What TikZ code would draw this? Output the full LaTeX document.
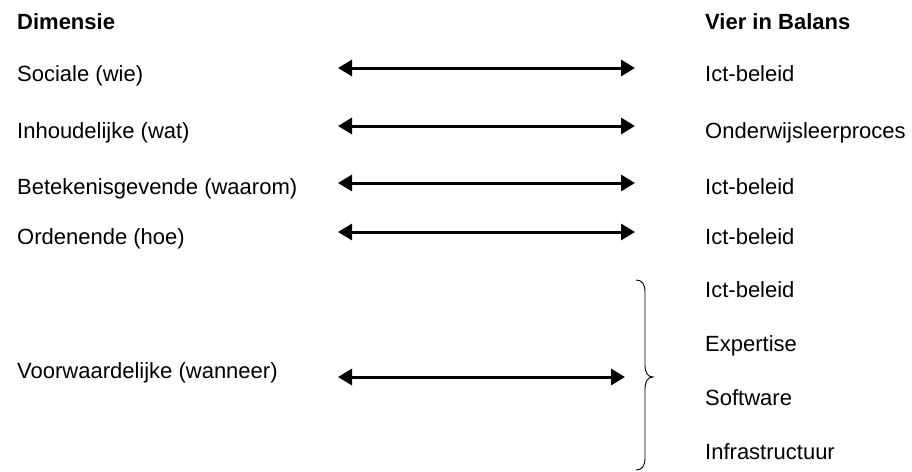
\documentclass[tikz,border=0pt]{standalone}
\usepackage{fontspec}
\setmainfont{Liberation Sans}
\usetikzlibrary{arrows.meta}
\begin{document}
\begin{tikzpicture}[x=1pt,y=-1pt,
  lbl/.style={anchor=base west,inner sep=0pt,font=\fontsize{22}{26}\selectfont},
  head/.style={lbl,font=\fontsize{22}{26}\selectfont\bfseries},
  dbl/.style={line width=3pt,{Triangle[length=14pt,width=16pt]}-{Triangle[length=14pt,width=16pt]}},
  brc/.style={line width=0.9pt}]
\useasboundingbox (0,0) rectangle (912,471);
% headings
\node[head] (hl) at (17,29) {Dimensie};
\node[head] (hr) at (705,29) {Vier in Balans};
% left column
\node[lbl] (l1) at (17,81) {Sociale (wie)};
\node[lbl] (l2) at (17,138) {Inhoudelijke (wat)};
\node[lbl] (l3) at (17,194) {Betekenisgevende (waarom)};
\node[lbl] (l4) at (17,244) {Ordenende (hoe)};
\node[lbl] (l5) at (17,378) {Voorwaardelijke (wanneer)};
% right column
\node[lbl] (r1) at (705,81) {Ict-beleid};
\node[lbl] (r2) at (705,138) {Onderwijsleerproces};
\node[lbl] (r3) at (705,194) {Ict-beleid};
\node[lbl] (r4) at (705,244) {Ict-beleid};
\node[lbl] (r5) at (705,297) {Ict-beleid};
\node[lbl] (r6) at (705,351) {Expertise};
\node[lbl] (r7) at (705,405) {Software};
\node[lbl] (r8) at (705,459) {Infrastructuur};
% arrow ends
\coordinate (a1) at (338,68);  \coordinate (b1) at (635,68);
\coordinate (a2) at (338,126); \coordinate (b2) at (635,126);
\coordinate (a3) at (338,183); \coordinate (b3) at (635,183);
\coordinate (a4) at (338,232); \coordinate (b4) at (635,232);
\coordinate (a5) at (338,377); \coordinate (b5) at (625,377);
\draw[dbl] (a1) -- (b1);
\draw[dbl] (a2) -- (b2);
\draw[dbl] (a3) -- (b3);
\draw[dbl] (a4) -- (b4);
\draw[dbl] (a5) -- (b5);
% brace
\coordinate (bt) at (636,280);
\coordinate (bm) at (653,377);
\coordinate (bb) at (636,470);
\draw[brc] (bt) .. controls (642,280) and (645,284) .. (645,292)
  -- (645,365) .. controls (645,373) and (648,377) .. (bm)
  .. controls (648,377) and (645,381) .. (645,389)
  -- (645,458) .. controls (645,466) and (642,470) .. (bb);
\end{tikzpicture}
\end{document}
